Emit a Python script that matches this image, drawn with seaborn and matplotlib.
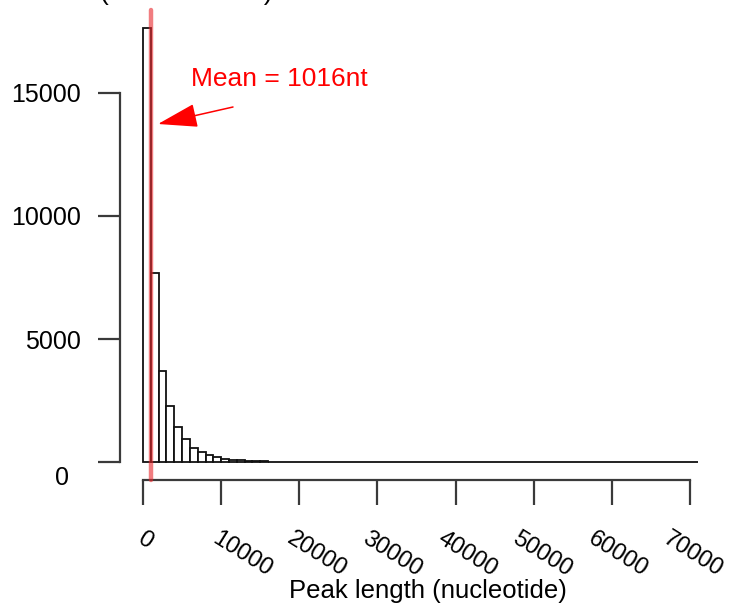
import numpy as np
import pandas as pd
import matplotlib
matplotlib.use("Agg")
import matplotlib.pyplot as plt
from matplotlib.transforms import ScaledTranslation
import seaborn as sns

# ---------------- data ----------------
BIN_WIDTH = 1000
BIN_EDGES = list(range(0, 72000, BIN_WIDTH))           # 0 .. 71000
COUNTS = [17600, 7700, 3690, 2300, 1420, 950, 600, 420, 290, 195,
          140, 105, 80, 60, 48, 38, 30, 24, 20, 16,
          13, 11, 9, 8, 7, 6, 5, 5, 4, 4,
          3, 3, 3, 2, 2, 2, 2, 1, 1, 1,
          1, 1, 1, 1, 1, 0, 1, 0, 1, 0,
          0, 1, 0, 0, 0, 1, 0, 0, 0, 0,
          0, 0, 1, 0, 0, 0, 0, 0, 0, 0, 1]
MEAN = 1016
X_TICKS = [0, 10000, 20000, 30000, 40000, 50000, 60000, 70000]
X_LABELS = ["0", "10000", "20000", "30000", "40000", "50000", "60000", "70000"]
Y_TICKS = [0, 5000, 10000, 15000]
Y_LABELS = ["0", "5000", "10000", "15000"]
X_TITLE = "Peak length (nucleotide)"
MEAN_TEXT = f"Mean = {MEAN}nt"

centers = [e + BIN_WIDTH / 2 for e in BIN_EDGES[:-1]]
df = pd.DataFrame({"length": centers, "count": COUNTS})

# ---------------- style ----------------
sns.set_theme(style="ticks")
plt.rcParams["font.family"] = ["Liberation Sans", "DejaVu Sans"]

W, H, DPI = 732, 608, 100
fig = plt.figure(figsize=(W / DPI, H / DPI), dpi=DPI)

XMAX, YMAX = 72000, 18350
px_x = 547 / 70000          # px per nucleotide
left_px, base_px, top_px = 143, 462.3, 10
right_px = left_px + XMAX * px_x
ax = fig.add_axes([left_px / W, (H - base_px) / H,
                   (right_px - left_px) / W, (base_px - top_px) / H])

sns.histplot(data=df, x="length", weights="count", bins=BIN_EDGES,
             color="white", edgecolor="#111111", linewidth=1.3, alpha=1,
             ax=ax)
for p in ax.patches:
    p.set_clip_on(False)
    p.set_facecolor("white")

ax.set_xlim(0, XMAX)
ax.set_ylim(0, YMAX)
ax.set_xlabel("")
ax.set_ylabel("")

for s in ["top", "right"]:
    ax.spines[s].set_visible(False)
ax.spines["left"].set_position(("outward", 23 * 0.72))
ax.spines["left"].set_bounds(0, 15000)
ax.spines["bottom"].set_position(("outward", 17.7 * 0.72))
ax.spines["bottom"].set_bounds(0, 70000)
for s in ["left", "bottom"]:
    ax.spines[s].set_linewidth(1.6)
    ax.spines[s].set_color("#3a3a3a")

ax.set_yticks(Y_TICKS, labels=Y_LABELS)
ax.set_xticks(X_TICKS, labels=X_LABELS, rotation=-32, ha="left", va="top")
ax.tick_params(axis="y", length=22 * 0.72, width=1.6, color="#3a3a3a",
               pad=17 * 0.72, labelsize=18, labelcolor="black")
ax.tick_params(axis="x", length=25 * 0.72, width=1.6, color="#3a3a3a",
               pad=23 * 0.72, labelsize=17, labelcolor="black")

# shift the "0" y label like in the reference
t0 = ax.yaxis.get_major_ticks()[0].label1
t0.set_transform(t0.get_transform() + ScaledTranslation(-12 / DPI, -13 / DPI, fig.dpi_scale_trans))
for tk, val in zip(ax.xaxis.get_major_ticks(), X_TICKS):
    dxp = -10 - 0.0003 * val
    tk.label1.set_transform(tk.label1.get_transform() +
                            ScaledTranslation(dxp / DPI, 0, fig.dpi_scale_trans))

# mean line
px_y = (base_px - top_px) / YMAX
ax.axvline(MEAN, ymin=-(480 - base_px) / (base_px - top_px), ymax=1,
           color="#e8262b", alpha=0.6, lw=3.2, clip_on=False, zorder=5)

# arrow + text
def dx(px):
    return (px - left_px) / px_x

def dy(py):
    return (base_px - py) / px_y

ax.annotate("", xy=(dx(158), dy(124)), xytext=(dx(233), dy(107)),
            arrowprops=dict(arrowstyle="-|>,head_length=25,head_width=7.5",
                            mutation_scale=1, color="red", lw=1.1,
                            shrinkA=0, shrinkB=0),
            annotation_clip=False)
ax.text(dx(191), dy(86), MEAN_TEXT, color="red", fontsize=19,
        ha="left", va="baseline")

# x axis title
ax.set_xlabel(X_TITLE, fontsize=18.5, color="black")
ax.xaxis.set_label_coords((428 - left_px) / (right_px - left_px),
                          -(591 - base_px) / (base_px - top_px))
ax.xaxis.label.set_va("center")

# cropped title (only the bottom of the brackets is visible, as in the reference)
fig.text(100 / W, 1.0, "(" + " " * 21 + ")", fontsize=19, ha="left",
         va="baseline", color="black")

fig.savefig("out.png", dpi=DPI)
